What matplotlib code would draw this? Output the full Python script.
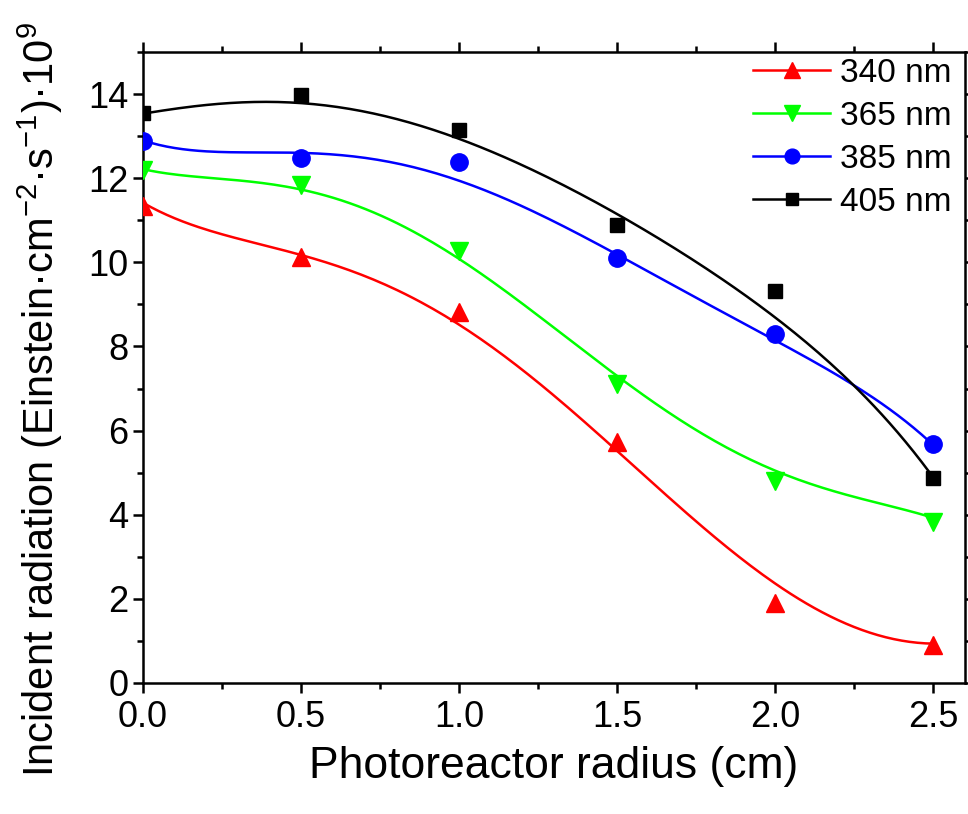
import numpy as np
import matplotlib
matplotlib.use("Agg")
import matplotlib.pyplot as plt

plt.rcParams['font.family'] = ['Liberation Sans', 'DejaVu Sans']
plt.rcParams['mathtext.fontset'] = 'custom'
plt.rcParams['mathtext.rm'] = 'Liberation Sans'
plt.rcParams['mathtext.it'] = 'Liberation Sans:italic'

# measured points
radius = [0.0, 0.5, 1.0, 1.5, 2.0, 2.5]
y340 = [11.35, 10.12, 8.82, 5.72, 1.9, 0.9]
y365 = [12.19, 11.83, 10.26, 7.1, 4.79, 3.83]
y385 = [12.88, 12.48, 12.38, 10.1, 8.29, 5.67]
y405 = [13.55, 13.98, 13.14, 10.88, 9.31, 4.88]

# fitted curves, every 0.25 cm
rfit = [0.0, 0.25, 0.5, 0.75, 1.0, 1.25, 1.5, 1.75, 2.0, 2.25, 2.5]
f340 = [11.38, 10.79, 10.1, 9.43, 8.57, 7.2, 5.6, 3.69, 2.33, 1.43, 0.9]
f365 = [12.21, 12.02, 11.67, 11.14, 10.14, 8.68, 7.29, 6.02, 5.07, 4.4, 3.93]
f385 = [12.88, 12.71, 12.5, 12.4, 12.05, 11.19, 10.07, 9.12, 8.29, 6.98, 5.67]
f405 = [13.57, 13.69, 13.78, 13.6, 13.05, 11.98, 10.95, 10.19, 8.88, 6.81, 4.95]

fig = plt.figure(figsize=(9.68, 8.14), dpi=100)
ax = fig.add_axes([0.1477, 0.161, 0.8493, 0.775])

xs = np.linspace(0, 2.5, 200)
series = [
    ("340 nm", y340, f340, "#ff0000", "^", 13),
    ("365 nm", y365, f365, "#00ff00", "v", 13),
    ("385 nm", y385, f385, "#0000ff", "o", 12.5),
    ("405 nm", y405, f405, "#000000", "s", 10),
]
for lab, ym, yf, c, m, ms in series:
    p = np.polyfit(rfit, yf, 5)
    ax.plot(xs, np.polyval(p, xs), color=c, lw=1.8, zorder=2)
    ax.plot(radius, ym, ls="none", marker=m, ms=ms, color=c, zorder=3)
    # legend proxy
    ax.plot([], [], color=c, lw=1.8, marker=m, ms=ms, label=lab)

ax.set_xlim(0, 2.6)
ax.set_ylim(0, 15)
ax.set_xticks([0, 0.5, 1.0, 1.5, 2.0, 2.5])
ax.set_xticks(np.arange(0.25, 2.6, 0.5), minor=True)
ax.set_yticks(range(0, 15, 2))
ax.set_yticks(range(1, 16, 2), minor=True)
ax.set_xticklabels(["0.0", "0.5", "1.0", "1.5", "2.0", "2.5"])

ax.tick_params(which="both", direction="out", width=1.8, labelsize=26,
               top=True, right=True)
ax.tick_params(which="major", length=7)
ax.tick_params(which="minor", length=4.5)
ax.tick_params(axis="x", pad=5)
for s in ax.spines.values():
    s.set_linewidth(1.8)

ax.set_xlabel("Photoreactor radius (cm)", fontsize=32, labelpad=8)
ax.set_ylabel(r"Incident radiation (Einstein·cm$^{-2}$·s$^{-1}$)·10$^{9}$",
              fontsize=30)
ax.yaxis.set_label_coords(-0.095, 0.45)

ax.legend(loc="upper right", bbox_to_anchor=(1.0, 1.012), frameon=False,
          fontsize=24, handlelength=2.3, handletextpad=0.3,
          labelspacing=0.36, borderaxespad=0.0, markerscale=0.85)

plt.savefig("out.png", dpi=100)
